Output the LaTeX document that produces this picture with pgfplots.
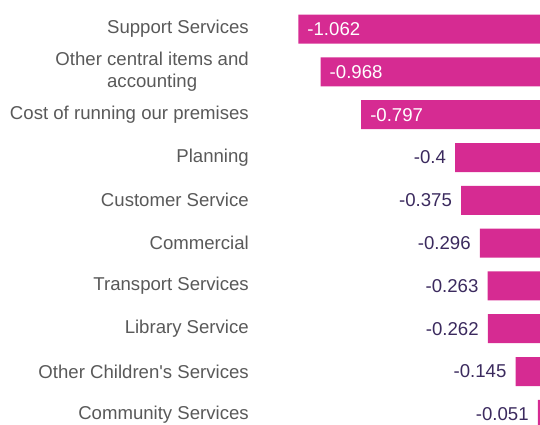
\documentclass[border=0pt]{standalone}
\usepackage{pgfplots}
\pgfplotsset{compat=1.18}
\usepackage{pgfplotstable}
\usepackage{fontspec}
\setmainfont{Liberation Sans}[Ligatures=TeXOff]
\definecolor{barpink}{HTML}{D62B92}
\definecolor{valpurple}{HTML}{3B2A5E}
\definecolor{labgray}{HTML}{595959}
\pgfplotstableread[col sep=comma]{
y,x,lab
0,-1.062,-1.062
1,-0.968,-0.968
2,-0.797,-0.797
}\inside
\pgfplotstableread[col sep=comma]{
y,x,lab
3,-0.4,-0.4
4,-0.375,-0.375
5,-0.296,-0.296
6,-0.263,-0.263
7,-0.262,-0.262
8,-0.145,-0.145
9,-0.051,-0.051
}\outside
\begin{document}
\begin{tikzpicture}
\begin{axis}[
  name=ax,
  scale only axis,
  width=246pt, height=425pt,
  xmin=-1.080, xmax=-0.042,
  ymin=-0.68, ymax=9.25,
  y dir=reverse,
  axis line style={draw=none},
  xtick=\empty,
  ytick={0,1,2,3,4,5,6,7,8,9},
  yticklabels={Support Services,{Other central items and\\accounting},Cost of running our premises,Planning,Customer Service,Commercial,Transport Services,Library Service,Other Children's Services,Community Services},
  major tick length=0pt,
  yticklabel style={font=\fontsize{18.6}{21.5}\selectfont, text=labgray, align=center, anchor=east, inner sep=0pt, xshift=-45pt},
  xbar, bar width=29pt, bar shift=0pt,
  nodes near coords,
  point meta=explicit symbolic,
  clip=true,
]
\addplot[fill=barpink, draw=none, nodes near coords style={anchor=west, text=white, font=\fontsize{18.6}{21.5}\selectfont, inner sep=0pt, xshift=9pt}]
  table[x=x, y=y, meta=lab] {\inside};
\addplot[fill=barpink, draw=none, nodes near coords style={anchor=east, text=valpurple, font=\fontsize{18.6}{21.5}\selectfont, inner sep=0pt, xshift=-9pt}]
  table[x=x, y=y, meta=lab] {\outside};
\end{axis}
\pgfresetboundingbox
\path[use as bounding box] ([xshift=-294pt]ax.south west) rectangle (ax.north east);
\end{tikzpicture}
\end{document}
